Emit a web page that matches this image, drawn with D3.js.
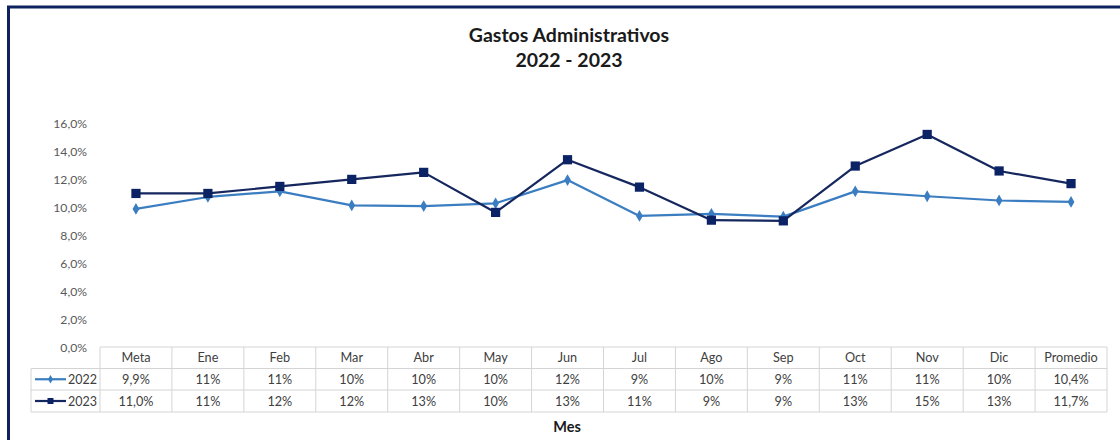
<!DOCTYPE html>
<html>
<head>
<meta charset="utf-8">
<script src="https://cdn.jsdelivr.net/npm/d3@7"></script>
<style>
  html, body { margin: 0; padding: 0; background: #ffffff; }
  svg { display: block; font-family: Lato, "Open Sans", sans-serif; }
</style>
</head>
<body>
<svg id="chart" width="1120" height="440"></svg>
<script>
// Categories (months plus goal and average)
const categories = ["Meta", "Ene", "Feb", "Mar", "Abr", "May", "Jun", "Jul", "Ago", "Sep", "Oct", "Nov", "Dic", "Promedio"];
// Administrative expenses as % (plotted values)
const values2022 = [9.9, 10.75, 11.15, 10.15, 10.1, 10.3, 11.95, 9.4, 9.55, 9.35, 11.15, 10.8, 10.5, 10.4];
const values2023 = [11.0, 11.0, 11.5, 12.0, 12.5, 9.65, 13.4, 11.45, 9.1, 9.05, 12.95, 15.2, 12.6, 11.7];
// Table cell labels as shown in the data table
const labels2022 = ["9,9%", "11%", "11%", "10%", "10%", "10%", "12%", "9%", "10%", "9%", "11%", "11%", "10%", "10,4%"];
const labels2023 = ["11,0%", "11%", "12%", "12%", "13%", "10%", "13%", "11%", "9%", "9%", "13%", "15%", "13%", "11,7%"];
const yTicks = [0, 2, 4, 6, 8, 10, 12, 14, 16];
const seriesNames = ["2022", "2023"];

const svg = d3.select("#chart");

// Frame (top and left edges visible)
svg.append("rect").attr("x", 0).attr("y", 0).attr("width", 1120).attr("height", 440).attr("fill", "#ffffff");
svg.append("line").attr("x1", 7).attr("x2", 1120).attr("y1", 7).attr("y2", 7)
  .attr("stroke", "#0d2360").attr("stroke-width", 3);
svg.append("line").attr("x1", 8.5).attr("x2", 8.5).attr("y1", 6).attr("y2", 440)
  .attr("stroke", "#0d2360").attr("stroke-width", 3);

// Title
const title = svg.append("text").attr("x", 569).attr("text-anchor", "middle")
  .attr("font-weight", "bold").attr("font-size", 19.5).attr("fill", "#1a1a1a");
title.append("tspan").attr("x", 569).attr("y", 42).text("Gastos Administrativos");
title.append("tspan").attr("x", 569).attr("y", 67).text("2022 - 2023");

// Scales
const tableLeft = 100, tableRight = 1107;
const x = d3.scaleBand().domain(categories).range([tableLeft, tableRight]).padding(0);
const y = d3.scaleLinear().domain([0, 16]).range([348, 123.2]);

// Y axis labels
const yAxis = d3.axisLeft(y).tickValues(yTicks)
  .tickFormat(d => d3.format(".1f")(d).replace(".", ",") + "%")
  .tickSize(0).tickPadding(0);
const gy = svg.append("g").attr("transform", "translate(87,0)").call(yAxis);
gy.select(".domain").remove();
gy.selectAll("text").attr("font-size", 12.2).attr("fill", "#595959")
  .attr("font-family", "Lato, 'Open Sans', sans-serif");

// Data table grid
const rowTops = [347, 368.5, 390, 412];
const legendLeft = 31;
const grid = svg.append("g").attr("stroke", "#d4d4d4").attr("stroke-width", 1).attr("fill", "none");
// header row border
grid.append("line").attr("x1", tableLeft).attr("x2", tableRight).attr("y1", rowTops[0]).attr("y2", rowTops[0]);
rowTops.slice(1).forEach(t => {
  grid.append("line").attr("x1", legendLeft).attr("x2", tableRight).attr("y1", t).attr("y2", t);
});
// vertical lines
categories.forEach(c => {
  grid.append("line").attr("x1", x(c)).attr("x2", x(c)).attr("y1", rowTops[0]).attr("y2", rowTops[3]);
});
grid.append("line").attr("x1", tableRight).attr("x2", tableRight).attr("y1", rowTops[0]).attr("y2", rowTops[3]);
grid.append("line").attr("x1", legendLeft).attr("x2", legendLeft).attr("y1", rowTops[1]).attr("y2", rowTops[3]);

const cellText = svg.append("g").attr("font-size", 12.7).attr("fill", "#404040").attr("text-anchor", "middle");
const rowsData = [categories, labels2022, labels2023];
rowsData.forEach((row, ri) => {
  const mid = (rowTops[ri] + rowTops[ri + 1]) / 2;
  cellText.selectAll(null).data(row).enter().append("text")
    .attr("x", (d, i) => x(categories[i]) + x.bandwidth() / 2)
    .attr("y", mid + 4.5)
    .text(d => d);
});

// Series styling
const colors = { "2022": "#3b7dc1", "2023": "#15275e" };
const markerFill = { "2022": "#3b7dc1", "2023": "#0b2265" };
const diamond = d3.symbol().type(d3.symbolDiamond).size(40);
const square = d3.symbol().type(d3.symbolSquare).size(85);

// Legend keys inside the table
seriesNames.forEach((name, si) => {
  const mid = (rowTops[si + 1] + rowTops[si + 2]) / 2;
  const g = svg.append("g");
  g.append("line").attr("x1", 35).attr("x2", 66).attr("y1", mid).attr("y2", mid)
    .attr("stroke", colors[name]).attr("stroke-width", 2.2);
  g.append("path").attr("d", si === 0 ? d3.symbol().type(d3.symbolDiamond).size(22)() : d3.symbol().type(d3.symbolSquare).size(36)())
    .attr("transform", `translate(50.5,${mid})`).attr("fill", markerFill[name]);
  g.append("text").attr("x", 68).attr("y", mid + 4.5).attr("font-size", 12.5).attr("fill", "#404040").text(name);
});

// Lines and markers
const cx = c => x(c) + x.bandwidth() / 2;
const line = d3.line().x((d, i) => cx(categories[i])).y(d => y(d));
[[values2022, "2022"], [values2023, "2023"]].forEach(([vals, name]) => {
  svg.append("path").datum(vals).attr("d", line).attr("fill", "none")
    .attr("stroke", colors[name]).attr("stroke-width", 2.2).attr("stroke-linejoin", "round");
});
[[values2022, "2022", diamond], [values2023, "2023", square]].forEach(([vals, name, sym]) => {
  svg.append("g").selectAll("path").data(vals).enter().append("path")
    .attr("d", sym())
    .attr("transform", (d, i) => `translate(${cx(categories[i])},${y(d)})`)
    .attr("fill", markerFill[name]);
});

// X axis title
svg.append("text").attr("x", 567).attr("y", 432).attr("text-anchor", "middle")
  .attr("font-size", 14.5).attr("font-weight", "bold").attr("fill", "#1a1a1a").text("Mes");
</script>
</body>
</html>
